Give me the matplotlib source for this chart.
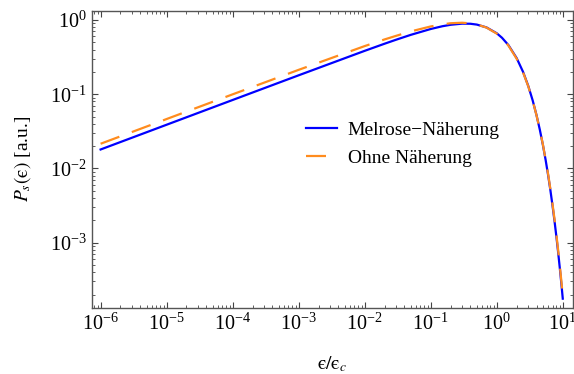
import numpy as np
import matplotlib
matplotlib.use('Agg')
import matplotlib.pyplot as plt
from matplotlib.ticker import LogLocator, NullFormatter

# energy ratio eps/eps_c
x = [1e-6, 1e-5, 1e-4, 1e-3, 1e-2, 0.02, 0.03, 0.05, 0.1, 0.15, 0.2, 0.3, 0.4,
     0.5, 0.7, 1.0, 1.2, 1.5, 2.0, 2.5, 3.0, 3.5, 4.0, 4.5, 5.0, 5.5, 6.0, 6.5,
     7.0, 7.5, 8.0, 8.5, 9.0, 9.5, 10.0]

# Melrose approximation (blue, solid)
p_melrose = [0.0180, 0.0388, 0.0836, 0.1798, 0.3839, 0.4789, 0.5427, 0.6308,
             0.7560, 0.8232, 0.8618, 0.8926, 0.8890, 0.8665, 0.7937, 0.6622,
             0.5761, 0.4597, 0.3069, 0.2005, 0.1293, 0.0825, 0.0523, 0.0330,
             0.0207, 0.0130, 0.00811, 0.00505, 0.00314, 0.00195, 0.00121,
             0.000747, 0.000462, 0.000285, 0.000176]

# without approximation (orange, dashed)
p_exact = [0.0215, 0.0463, 0.0996, 0.213, 0.445, 0.547, 0.612, 0.702,
           0.818, 0.870, 0.904, 0.918, 0.901, 0.870, 0.790, 0.655,
           0.570, 0.453, 0.301, 0.197, 0.128, 0.0818, 0.0519, 0.0329,
           0.0210, 0.0131, 0.00837, 0.00524, 0.00329, 0.00206, 0.00128,
           0.000800, 0.000498, 0.000309, 0.000192]

plt.rcParams['font.family'] = ['Liberation Serif', 'DejaVu Serif']
plt.rcParams['mathtext.fontset'] = 'stix'

fig = plt.figure(figsize=(5.74, 3.74), dpi=100)
ax = fig.add_axes([0.1603, 0.1773, 0.8374, 0.7933])

ax.plot(x, p_melrose, color='#0000ff', lw=1.6, label='Melrose\u2212Näherung')
ax.plot(x, p_exact, color='#ff8c1e', lw=1.6, dashes=(9.0, 6.0),
        label='Ohne Näherung')

ax.set_xscale('log')
ax.set_yscale('log')
ax.set_xlim(10**-6.13, 10**1.15)
ax.set_ylim(10**-3.876, 10**0.121)

ax.xaxis.set_major_locator(LogLocator(base=10, numticks=20))
ax.xaxis.set_minor_locator(LogLocator(base=10, subs=np.arange(2, 10), numticks=100))
ax.xaxis.set_minor_formatter(NullFormatter())
ax.yaxis.set_major_locator(LogLocator(base=10, numticks=20))
ax.yaxis.set_minor_locator(LogLocator(base=10, subs=np.arange(2, 10), numticks=100))
ax.yaxis.set_minor_formatter(NullFormatter())

ax.tick_params(which='both', direction='in', top=True, right=True,
               color='#444444', labelsize=14.5)
ax.tick_params(which='major', length=4, width=0.8, pad=4)
ax.tick_params(which='minor', length=2, width=0.6)
for s in ax.spines.values():
    s.set_color('#555555')
    s.set_linewidth(1.0)

ax.set_xlabel('$\\mathrm{\u03f5}/\\mathrm{\u03f5}_c$', fontsize=14, labelpad=14)
ax.set_ylabel('$P_s(\\mathrm{\u03f5})$ [a.u.]', fontsize=14, labelpad=12)

ax.legend(loc='center left', bbox_to_anchor=(0.445, 0.552), frameon=False,
          fontsize=14, borderpad=0, borderaxespad=0, handlelength=1.6,
          handletextpad=0.55, labelspacing=0.55)

fig.savefig('out.png', dpi=100)
